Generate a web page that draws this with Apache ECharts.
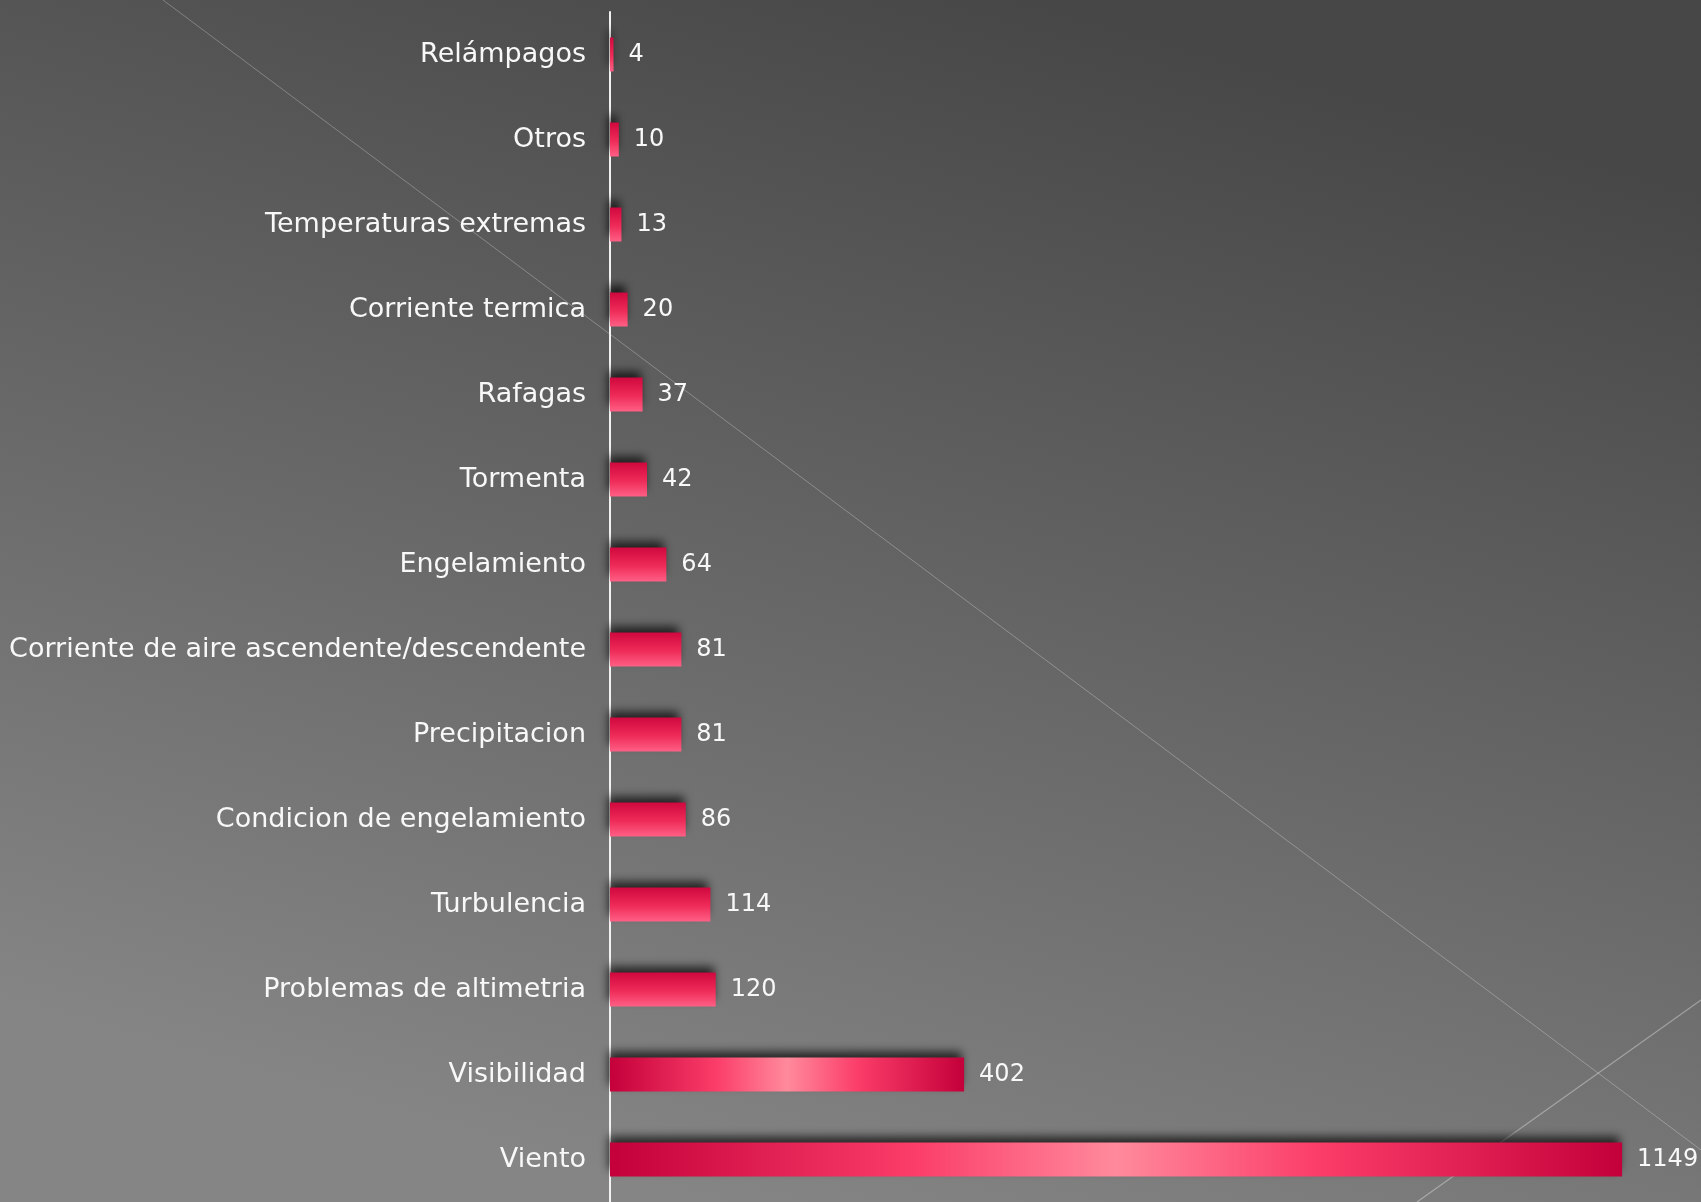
<!DOCTYPE html>
<html>
<head>
<meta charset="utf-8">
<script src="https://cdn.jsdelivr.net/npm/echarts@6/dist/echarts.min.js"></script>
<style>
html,body{margin:0;padding:0;width:1701px;height:1202px;overflow:hidden;}
#chart{width:1701px;height:1202px;}
</style>
</head>
<body>
<div id="chart"></div>
<script>
const categories = ["Relámpagos","Otros","Temperaturas extremas","Corriente termica","Rafagas","Tormenta","Engelamiento","Corriente de aire ascendente/descendente","Precipitacion","Condicion de engelamiento","Turbulencia","Problemas de altimetria","Visibilidad","Viento"];
const values = [4,10,13,20,37,42,64,81,81,86,114,120,402,1149];

const FONT = "'DejaVu Sans'";
const chart = echarts.init(document.getElementById('chart'));
const wideGradient = new echarts.graphic.LinearGradient(0,0,1,0,[
  {offset:0,color:'#c4003a'},
  {offset:0.3,color:'#fb3d69'},
  {offset:0.5,color:'#ff8a9c'},
  {offset:0.7,color:'#fb3d69'},
  {offset:1,color:'#c4003a'}
]);
const narrowGradient = new echarts.graphic.LinearGradient(0,0,0,1,[
  {offset:0,color:'#d0083e'},
  {offset:0.55,color:'#ef2c59'},
  {offset:1,color:'#ff6086'}
]);
const barData = values.map(v => ({value:v, itemStyle:{color: v > 200 ? wideGradient : narrowGradient}}));

const option = {
  backgroundColor: new echarts.graphic.LinearGradient(0.6,0,0.4,1,[
    {offset:0,color:'#474747'},
    {offset:1,color:'#858585'}
  ]),
  animation:false,
  textStyle:{fontFamily:FONT},
  grid:{left:610, top:12, bottom:-4, width:1057, containLabel:false},
  xAxis:{type:'value', min:0, max:1200, show:false},
  yAxis:{
    type:'category', data:categories, inverse:true,
    axisLine:{show:true, lineStyle:{color:'#f2f2f2', width:2}},
    axisTick:{show:false},
    axisLabel:{color:'#f8f8f8', fontSize:27, fontFamily:FONT, margin:24, padding:[4,0,0,0]},
    splitLine:{show:false}
  },
  graphic:[
    {type:'line', silent:true, z:-1, shape:{x1:163,y1:0,x2:1701,y2:1150}, style:{stroke:'rgba(255,255,255,0.28)', lineWidth:1}},
    {type:'line', silent:true, z:-1, shape:{x1:1417,y1:1202,x2:1701,y2:1000}, style:{stroke:'rgba(255,255,255,0.35)', lineWidth:1.2}}
  ],
  series:[{
    type:'bar', data:barData, barWidth:34,
    itemStyle:{shadowColor:'rgba(0,0,0,0.7)', shadowBlur:9, shadowOffsetY:-7, shadowOffsetX:-2},
    label:{show:true, position:'right', distance:15, color:'#f8f8f8', fontSize:24, fontFamily:FONT, padding:[4,0,0,0]}
  }]
};
chart.setOption(option);
</script>
</body>
</html>
